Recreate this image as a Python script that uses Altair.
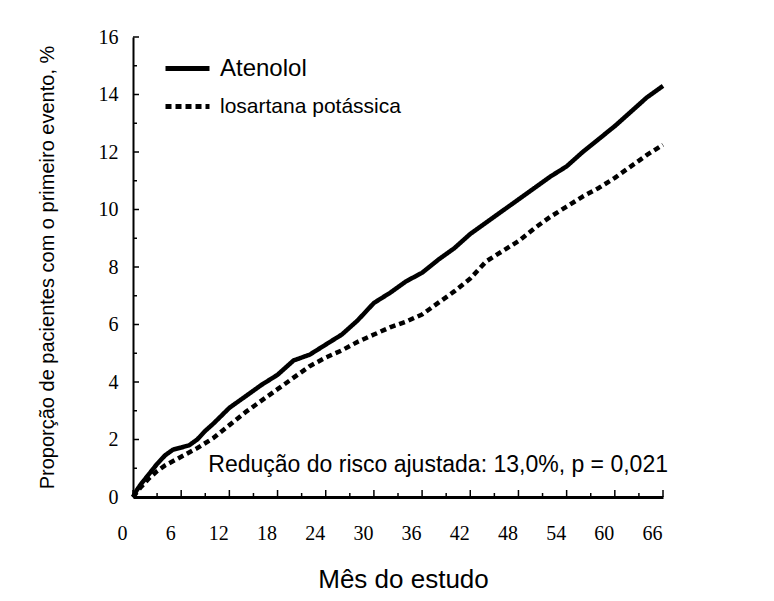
import altair as alt
import pandas as pd

# --- data ---
series_names = ["Atenolol", "losartana potássica"]

months_atenolol = [0, 0.5, 1, 2, 3, 4, 5, 6, 7, 8, 9, 10, 12, 14, 16, 18, 20, 22, 24, 26, 28,
                   30, 32, 34, 36, 38, 40, 42, 44, 46, 48, 50, 52, 54, 56, 58, 60, 62, 64, 66]
atenolol = [0, 0.25, 0.45, 0.8, 1.15, 1.45, 1.65, 1.72, 1.8, 2.0, 2.3, 2.55, 3.1, 3.5, 3.9, 4.25,
            4.75, 4.95, 5.3, 5.65, 6.15, 6.75, 7.1, 7.5, 7.8, 8.25, 8.65, 9.15, 9.55, 9.95,
            10.35, 10.75, 11.15, 11.5, 12.0, 12.45, 12.9, 13.4, 13.9, 14.3]

months_losartana = [0, 1, 2, 3, 4, 6, 8, 10, 12, 14, 16, 18, 20, 22, 24, 26, 28, 30, 32, 34,
                    36, 38, 40, 42, 44, 46, 48, 50, 52, 54, 56, 58, 60, 62, 64, 66]
losartana = [0, 0.35, 0.65, 0.9, 1.1, 1.4, 1.7, 2.05, 2.5, 2.95, 3.35, 3.75, 4.15, 4.55, 4.85,
             5.1, 5.4, 5.65, 5.9, 6.1, 6.35, 6.75, 7.15, 7.6, 8.2, 8.55, 8.9, 9.35, 9.75, 10.1,
             10.45, 10.75, 11.1, 11.5, 11.9, 12.25]

y_major = [0, 2, 4, 6, 8, 10, 12, 14, 16]
y_minor = [1, 3, 5, 7, 9, 11, 13, 15]
x_major = [0, 6, 12, 18, 24, 30, 36, 42, 48, 54, 60, 66]
x_minor = [3, 9, 15, 21, 27, 33, 39, 45, 51, 57, 63]

annotation = "Redução do risco ajustada: 13,0%, p = 0,021"
x_title = "Mês do estudo"
y_title = "Proporção de pacientes com o primeiro evento, %"

df = pd.concat([
    pd.DataFrame({"mes": months_atenolol, "prop": atenolol, "serie": series_names[0]}),
    pd.DataFrame({"mes": months_losartana, "prop": losartana, "serie": series_names[1]}),
])

xscale = alt.Scale(domain=[0, 66], nice=False, zero=True)
yscale = alt.Scale(domain=[0, 16], nice=False, zero=True)

x_axis = alt.Axis(values=x_major, ticks=False, grid=False, domain=True,
                  domainColor="black", domainWidth=3,
                  labelFont="Liberation Serif", labelFontSize=20, labelColor="black",
                  labelPadding=26, labelOffset=-11, labelFlush=False, labelOverlap=False,
                  title=x_title, titleFont="Liberation Sans", titleFontSize=26,
                  titleFontWeight="normal", titleColor="black",
                  titleX=270, titleY=90, titleBaseline="alphabetic")
y_axis = alt.Axis(values=y_major, ticks=False, grid=False, domain=True,
                  domainColor="black", domainWidth=2,
                  labelFont="Liberation Serif", labelFontSize=20, labelColor="black",
                  labelPadding=15, labelFlush=False, labelOverlap=False,
                  title=y_title, titleFont="Liberation Sans", titleFontSize=20,
                  titleFontWeight="normal", titleColor="black",
                  titleX=-86, titleY=230, titleAngle=-90,
                  titleAlign="center", titleBaseline="middle")

lines = alt.Chart(df).mark_line(color="black", strokeWidth=4.5, strokeCap="butt",
                                strokeJoin="round").encode(
    x=alt.X("mes:Q", scale=xscale, axis=x_axis),
    y=alt.Y("prop:Q", scale=yscale, axis=y_axis),
    strokeDash=alt.StrokeDash(
        "serie:N",
        scale=alt.Scale(domain=series_names, range=[[1, 0], [6, 4]]),
        sort=series_names,
        legend=alt.Legend(title=None, orient="none", legendX=41, legendY=18, padding=0,
                          symbolType="M-2,0H2", symbolSize=484, symbolStrokeWidth=5,
                          symbolStrokeColor="black", symbolFillColor="transparent",
                          labelFont="Liberation Sans",
                          labelFontSize={"expr": "datum.label == 'Atenolol' ? 24 : 21"},
                          labelColor="black",
                          labelOffset=19, labelLimit=400, rowPadding=12)),
)

ymaj = alt.Chart(pd.DataFrame({"v": y_major})).mark_rule(color="black", strokeWidth=1.5).encode(
    y=alt.Y("v:Q", scale=yscale, axis=y_axis), x=alt.value(0), x2=alt.value(6))
ymin = alt.Chart(pd.DataFrame({"v": y_minor})).mark_rule(color="black", strokeWidth=1.5).encode(
    y=alt.Y("v:Q", scale=yscale, axis=y_axis), x=alt.value(0), x2=alt.value(4))
xmaj = alt.Chart(pd.DataFrame({"v": x_major})).mark_rule(color="black", strokeWidth=1.5).encode(
    x=alt.X("v:Q", scale=xscale, axis=x_axis), y=alt.value(460), y2=alt.value(453))
xmin = alt.Chart(pd.DataFrame({"v": x_minor})).mark_rule(color="black", strokeWidth=1.5).encode(
    x=alt.X("v:Q", scale=xscale, axis=x_axis), y=alt.value(460), y2=alt.value(456))

ann = alt.Chart(pd.DataFrame({"x": [66], "y": [1.1], "t": [annotation]})).mark_text(
    align="right", baseline="middle", font="Liberation Sans", fontSize=23, dx=5,
    color="black").encode(
    x=alt.X("x:Q", scale=xscale, axis=x_axis),
    y=alt.Y("y:Q", scale=yscale, axis=y_axis),
    text="t:N")

chart = alt.layer(lines, ymaj, ymin, xmaj, xmin, ann).properties(
    width=530, height=460,
    autosize=alt.AutoSizeParams(type="none"),
    padding={"left": 125, "top": 29, "right": 103, "bottom": 96},
    background="white",
).configure_view(stroke=None)

chart.save("out.html", embed_options={"renderer": "svg", "actions": False})
